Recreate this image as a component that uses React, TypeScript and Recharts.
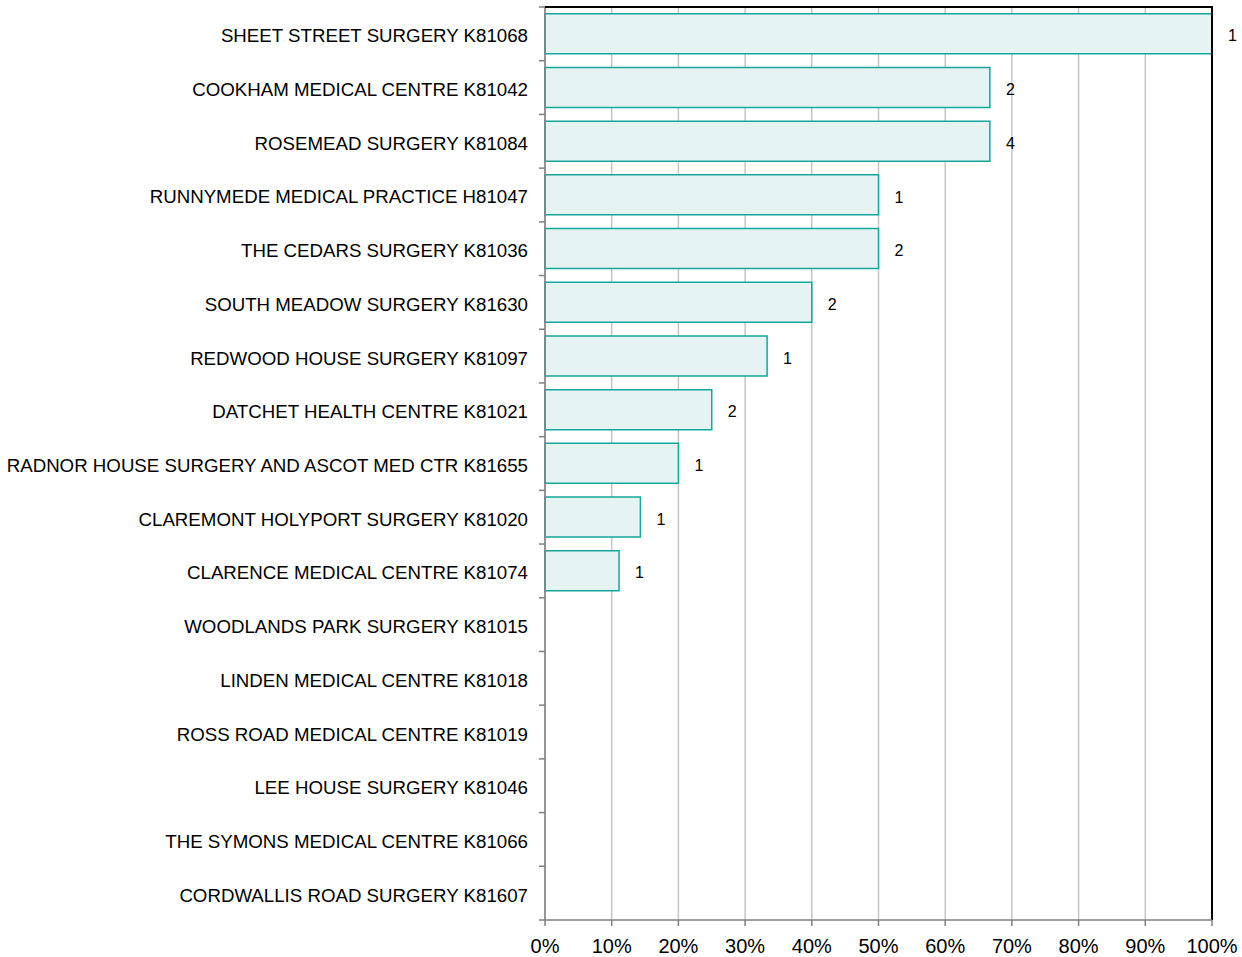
import React from "react";
import {
  BarChart,
  Bar,
  XAxis,
  YAxis,
  CartesianGrid,
  LabelList,
  ReferenceLine,
} from "recharts";

const practices = [
  "SHEET STREET SURGERY K81068",
  "COOKHAM MEDICAL CENTRE K81042",
  "ROSEMEAD SURGERY K81084",
  "RUNNYMEDE MEDICAL PRACTICE H81047",
  "THE CEDARS SURGERY K81036",
  "SOUTH MEADOW SURGERY K81630",
  "REDWOOD HOUSE SURGERY K81097",
  "DATCHET HEALTH CENTRE K81021",
  "RADNOR HOUSE SURGERY AND ASCOT MED CTR K81655",
  "CLAREMONT HOLYPORT SURGERY K81020",
  "CLARENCE MEDICAL CENTRE K81074",
  "WOODLANDS PARK SURGERY K81015",
  "LINDEN MEDICAL CENTRE K81018",
  "ROSS ROAD MEDICAL CENTRE K81019",
  "LEE HOUSE SURGERY K81046",
  "THE SYMONS MEDICAL CENTRE K81066",
  "CORDWALLIS ROAD SURGERY K81607",
];

const percents = [100, 66.7, 66.7, 50, 50, 40, 33.3, 25, 20, 14.3, 11.1, 0, 0, 0, 0, 0, 0];
const counts: (number | null)[] = [1, 2, 4, 1, 2, 2, 1, 2, 1, 1, 1, null, null, null, null, null, null];

const xTicks = [0, 10, 20, 30, 40, 50, 60, 70, 80, 90, 100];

const data = practices.map((name, i) => ({
  name,
  pct: percents[i],
  count: counts[i],
}));

const W = 1242;
const H = 957;
const TOP = 7;
const BOTTOM = 37;
const LEFT = 545;
const RIGHT = 30;
const band = (H - TOP - BOTTOM) / practices.length;
const plotWidth = W - LEFT - RIGHT;
const FONT = "'Liberation Sans', Arial, sans-serif";

// tick x arrives 8px left of the axis line (size 6 + margin 2)
const CategoryTick = (props: any) => {
  const { x, y, payload } = props;
  const isLast = payload.value === practices[practices.length - 1];
  const ax = x + 8;
  const top = y - band / 2;
  const bottom = y + band / 2;
  return (
    <g>
      <line x1={ax - 6} x2={ax} y1={top} y2={top} stroke="#808080" strokeWidth={1.5} />
      {isLast && (
        <line x1={ax - 6} x2={ax} y1={bottom} y2={bottom} stroke="#808080" strokeWidth={1.5} />
      )}
      <text
        x={ax - 17}
        y={y + 2}
        textAnchor="end"
        dominantBaseline="central"
        fontSize={18.7}
        fontFamily={FONT}
        fill="#000"
      >
        {payload.value}
      </text>
    </g>
  );
};

export default function App() {
  return (
    <div style={{ position: "absolute", left: 0, top: 0, width: W, height: H, background: "#fff" }}>
      <BarChart
        width={W}
        height={H}
        data={data}
        layout="vertical"
        margin={{ top: TOP, right: RIGHT, bottom: 0, left: 0 }}
        barCategoryGap="12.5%"
      >
        <CartesianGrid horizontal={false} stroke="#c6c6c6" strokeWidth={1.5} />
        <XAxis
          type="number"
          domain={[0, 100]}
          ticks={xTicks}
          tickFormatter={(v) => `${v}%`}
          height={BOTTOM}
          interval={0}
          tickSize={6}
          tickMargin={13}
          stroke="#808080"
          strokeWidth={1.5}
          tick={{ fill: "#000", fontSize: 20, fontFamily: FONT }}
        />
        <YAxis
          type="category"
          dataKey="name"
          width={LEFT}
          interval={0}
          tickLine={false}
          stroke="#808080"
          strokeWidth={1.5}
          tick={<CategoryTick />}
        />
        <ReferenceLine x={100} stroke="#000" strokeWidth={2} />
        <Bar
          dataKey="pct"
          fill="#e5f3f2"
          stroke="#13a89a"
          strokeWidth={1.5}
          isAnimationActive={false}
        >
          <LabelList
            dataKey="count"
            position="right"
            offset={16}
            fill="#000"
            fontSize={16}
            fontFamily={FONT}
            dy={2}
          />
        </Bar>
      </BarChart>
      {/* top frame line of the plot area */}
      <div
        style={{
          position: "absolute",
          left: LEFT,
          top: TOP - 1,
          width: plotWidth + 1,
          height: 2,
          background: "#000",
        }}
      />
    </div>
  );
}
